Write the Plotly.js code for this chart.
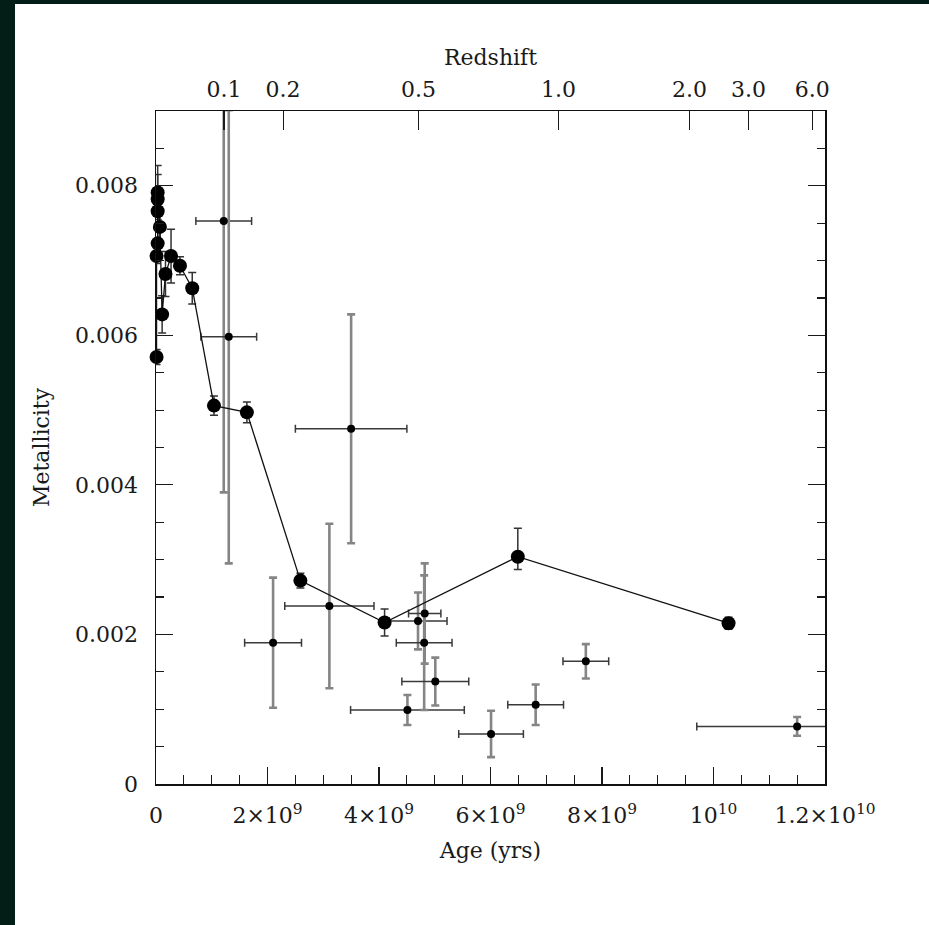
<!DOCTYPE html>
<html>
<head>
<meta charset="utf-8">
<script src="https://cdn.plot.ly/plotly-3.0.1.min.js"></script>
<style>
  html, body { margin:0; padding:0; background:#021e16; width:929px; height:925px; overflow:hidden; }
  #chart { position:absolute; left:15px; top:4px; width:914px; height:921px; background:#fff; }
</style>
</head>
<body>
<div id="chart"></div>
<script>
// ---- Connected series (large points): age in years, metallicity ----
const seriesAge = [0.01e9, 0.01e9, 0.03e9, 0.03e9, 0.03e9, 0.03e9, 0.07e9, 0.11e9, 0.17e9, 0.27e9, 0.43e9, 0.65e9, 1.04e9, 1.63e9, 2.59e9, 4.10e9, 6.49e9, 10.27e9];
const seriesZ   = [0.00571, 0.00706, 0.00723, 0.00766, 0.00782, 0.00791, 0.00745, 0.00628, 0.00682, 0.00706, 0.00693, 0.00663, 0.00506, 0.00497, 0.00272, 0.00216, 0.00304, 0.00215];
const seriesZErrPlus  = [0.0001, 0.0001, 0.00015, 0.00015, 0.00033, 0.00036, 0.0002, 0.00025, 0.0003, 0.00036, 0.00012, 0.00021, 0.00013, 0.00014, 0.0001, 0.00018, 0.00038, 0.00008];
const seriesZErrMinus = [0.0001, 0.0001, 0.00015, 0.00015, 0.00033, 0.00036, 0.0002, 0.00025, 0.0003, 0.00036, 0.00012, 0.00021, 0.00013, 0.00014, 0.0001, 0.00018, 0.00017, 0.00008];

// ---- Individual measurements (small points with error bars) ----
const pointAge    = [1.215e9, 1.305e9, 2.10e9, 3.11e9, 3.50e9, 4.51e9, 4.70e9, 4.82e9, 4.81e9, 5.01e9, 6.01e9, 6.81e9, 7.71e9, 11.50e9];
const pointZ      = [0.00753, 0.00598, 0.00189, 0.00238, 0.00475, 0.00099, 0.00218, 0.00228, 0.00189, 0.00137, 0.00067, 0.00106, 0.00164, 0.00077];
const pointAgeErr = [0.5e9, 0.5e9, 0.51e9, 0.8e9, 1.0e9, 1.02e9, 0.52e9, 0.29e9, 0.5e9, 0.6e9, 0.58e9, 0.5e9, 0.41e9, 1.8e9];
const pointZErr   = [0.00363, 0.00303, 0.00087, 0.00110, 0.00153, 0.0002, 0.00038, 0.00067, 0.0009, 0.00032, 0.00031, 0.00027, 0.00023, 0.000125];

// ---- Tick labels ----
const ageTickVals = [0, 2e9, 4e9, 6e9, 8e9, 1e10, 1.2e10];
const ageTickText = ['0', '2×10<sup>9</sup>', '4×10<sup>9</sup>', '6×10<sup>9</sup>', '8×10<sup>9</sup>', '10<sup>10</sup>', '1.2×10<sup>10</sup>'];
const zTickVals = [0, 0.002, 0.004, 0.006, 0.008];
const zTickText = ['0', '0.002', '0.004', '0.006', '0.008'];
const redshiftAges   = [1.22e9, 2.28e9, 4.71e9, 7.22e9, 9.57e9, 10.63e9, 11.77e9];
const redshiftLabels = ['0.1', '0.2', '0.5', '1.0', '2.0', '3.0', '6.0'];

const ink = '#1a1a1a';

const traces = [
  {
    x: pointAge, y: pointZ, type: 'scatter', mode: 'markers',
    marker: {color: '#000', size: 8},
    error_x: {type: 'data', array: pointAgeErr, visible: true, color: '#3a3a3a', thickness: 1.5, width: 4},
    error_y: {type: 'data', array: pointZErr, visible: true, color: '#858585', thickness: 2.6, width: 4},
    hoverinfo: 'skip'
  },
  {
    x: seriesAge, y: seriesZ, type: 'scatter', mode: 'lines+markers',
    cliponaxis: false,
    line: {color: '#111', width: 1.3},
    marker: {color: '#000', size: 14},
    error_y: {type: 'data', symmetric: false, array: seriesZErrPlus, arrayminus: seriesZErrMinus, visible: true, color: '#333', thickness: 1.5, width: 4},
    hoverinfo: 'skip'
  },
  {
    x: redshiftAges, y: redshiftAges.map(() => null), xaxis: 'x2', yaxis: 'y',
    type: 'scatter', mode: 'markers', showlegend: false, hoverinfo: 'skip'
  }
];

const axisFont = {family: 'DejaVu Serif', size: 22, color: ink};

const layout = {
  width: 914, height: 921,
  margin: {l: 141, r: 104, t: 107, b: 141},
  paper_bgcolor: '#fff', plot_bgcolor: '#fff',
  showlegend: false,
  font: axisFont,
  xaxis: {
    range: [0, 1.2e10], tickmode: 'array', tickvals: ageTickVals, ticktext: ageTickText,
    ticks: 'inside', ticklen: 17, tickwidth: 1.2, tickcolor: ink,
    minor: {tickmode: 'linear', tick0: 0, dtick: 5e8, ticks: 'inside', ticklen: 9, tickwidth: 1.2, tickcolor: ink},
    showline: true, linecolor: '#111', linewidth: 1.5, mirror: false,
    showgrid: false, zeroline: false, ticklabelstandoff: 11,
    tickfont: axisFont,
    title: {text: 'Age (yrs)', font: axisFont, standoff: 15}
  },
  xaxis2: {
    overlaying: 'x', side: 'top', range: [0, 1.2e10], tickmode: 'array',
    tickvals: redshiftAges, ticktext: redshiftLabels,
    ticks: 'inside', ticklen: 19, tickwidth: 1.2, tickcolor: ink,
    showline: true, linecolor: '#111', linewidth: 1.5,
    showgrid: false, zeroline: false, ticklabelstandoff: 4,
    tickfont: axisFont,
    title: {text: 'Redshift', font: axisFont, standoff: 5}
  },
  yaxis: {
    range: [0, 0.009], tickmode: 'array', tickvals: zTickVals, ticktext: zTickText,
    ticks: 'inside', ticklen: 17, tickwidth: 1.2, tickcolor: ink,
    minor: {tickmode: 'linear', tick0: 0, dtick: 0.0005, ticks: 'inside', ticklen: 8, tickwidth: 1.2, tickcolor: ink},
    showline: true, linecolor: '#111', linewidth: 1.5, mirror: 'ticks',
    showgrid: false, zeroline: false, ticklabelstandoff: 12,
    tickfont: axisFont,
    title: {text: 'Metallicity', font: axisFont, standoff: 19}
  }
};

Plotly.newPlot('chart', traces, layout, {displayModeBar: false, staticPlot: true});
</script>
</body>
</html>
